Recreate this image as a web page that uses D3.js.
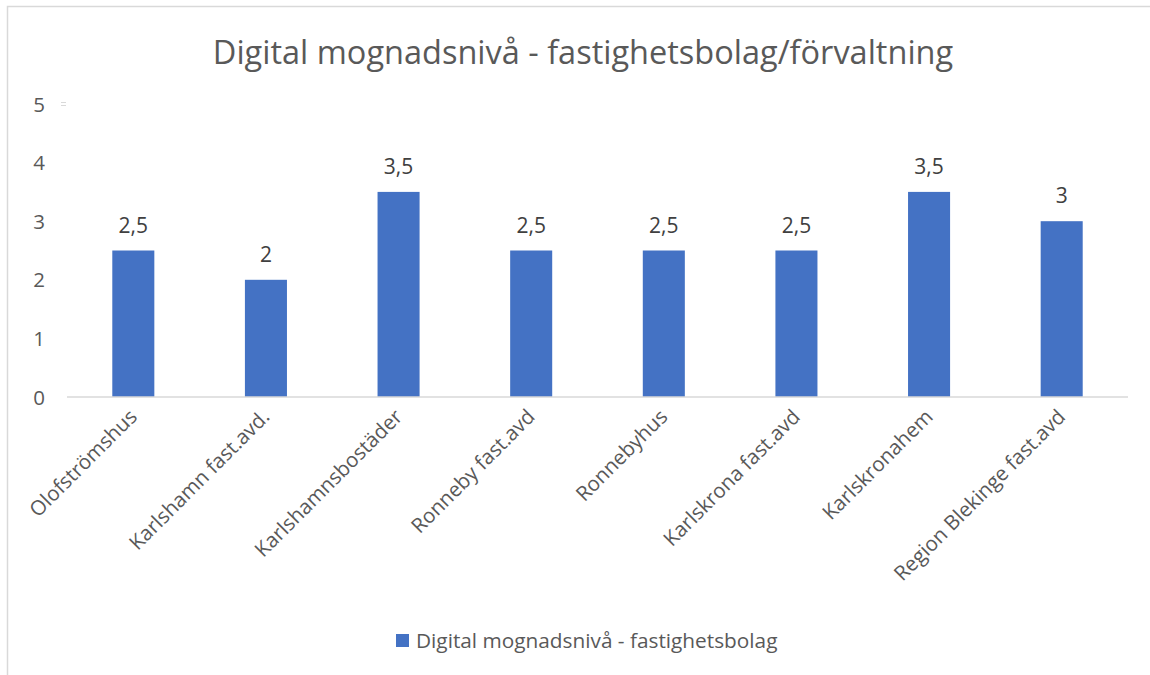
<!DOCTYPE html>
<html lang="sv">
<head>
  <meta charset="UTF-8">
  <title>Digital mognadsnivå</title>
  <script src="https://d3js.org/d3.v7.min.js"></script>
  <style>
    body { margin: 0; background: #fff; font-family: "Open Sans", sans-serif; }
    svg { display: block; }
  </style>
</head>
<body>
  <svg id="chart" width="1150" height="675"></svg>
  <script>
    const categories = ["Olofströmshus", "Karlshamn fast.avd.", "Karlshamnsbostäder", "Ronneby fast.avd",
      "Ronnebyhus", "Karlskrona fast.avd", "Karlskronahem", "Region Blekinge fast.avd"];
    const values = [2.5, 2, 3.5, 2.5, 2.5, 2.5, 3.5, 3];
    const yTicks = [0, 1, 2, 3, 4, 5];
    const seriesName = "Digital mognadsnivå - fastighetsbolag";
    const title = "Digital mognadsnivå - fastighetsbolag/förvaltning";

    const svg = d3.select("#chart");
    const textColor = "#595959";
    const barColor = "#4472C4";

    // chart frame (cropped at right and bottom)
    svg.append("path")
      .attr("d", "M7.5,675 L7.5,6.5 L1150,6.5")
      .attr("fill", "none")
      .attr("stroke", "#d9d9d9")
      .attr("stroke-width", 1.5);

    svg.append("text")
      .attr("x", 583).attr("y", 64)
      .attr("text-anchor", "middle")
      .attr("fill", textColor)
      .style("font-size", "32.5px")
      .text(title);

    const x = d3.scaleBand().domain(categories).range([67, 1128]).paddingInner(0.683).paddingOuter(0.3415);
    const y = d3.scaleLinear().domain([0, 5]).range([397, 104]);

    // y labels
    svg.append("g").selectAll("text")
      .data(yTicks).enter().append("text")
      .attr("x", 45).attr("y", d => y(d) + 7.5)
      .attr("text-anchor", "end")
      .attr("fill", textColor)
      .style("font-size", "20.5px")
      .text(d => d);

    // tiny leftover marks beside "5"
    svg.append("g").selectAll("line")
      .data([-1.5, 1.5]).enter().append("line")
      .attr("x1", 61).attr("x2", 66)
      .attr("y1", d => y(5) + d).attr("y2", d => y(5) + d)
      .attr("stroke", "#d9d9d9").attr("stroke-width", 1);

    svg.append("g").selectAll("rect")
      .data(values).enter().append("rect")
      .attr("x", (d, i) => x(categories[i]))
      .attr("y", d => y(d))
      .attr("width", x.bandwidth())
      .attr("height", d => y(0) - y(d))
      .attr("fill", barColor);

    svg.append("line")
      .attr("x1", 67).attr("x2", 1128)
      .attr("y1", y(0)).attr("y2", y(0))
      .attr("stroke", "#d9d9d9").attr("stroke-width", 1.5);

    svg.append("g").selectAll("text")
      .data(values).enter().append("text")
      .attr("x", (d, i) => x(categories[i]) + x.bandwidth() / 2)
      .attr("y", d => y(d) - 18)
      .attr("text-anchor", "middle")
      .attr("fill", "#404040")
      .style("font-size", "21px")
      .text(d => String(d).replace(".", ","));

    // rotated category labels
    svg.append("g").selectAll("text")
      .data(categories).enter().append("text")
      .attr("transform", d => `translate(${x(d) + x.bandwidth() / 2 + 5},${418}) rotate(-45)`)
      .attr("text-anchor", "end")
      .attr("fill", textColor)
      .style("font-size", "20.5px")
      .text(d => d);

    // legend
    const legend = svg.append("g").attr("transform", "translate(396,634)");
    legend.append("rect").attr("width", 13).attr("height", 13).attr("fill", barColor);
    legend.append("text")
      .attr("x", 20).attr("y", 14)
      .attr("fill", textColor)
      .style("font-size", "20.8px")
      .text(seriesName);
  </script>
</body>
</html>
